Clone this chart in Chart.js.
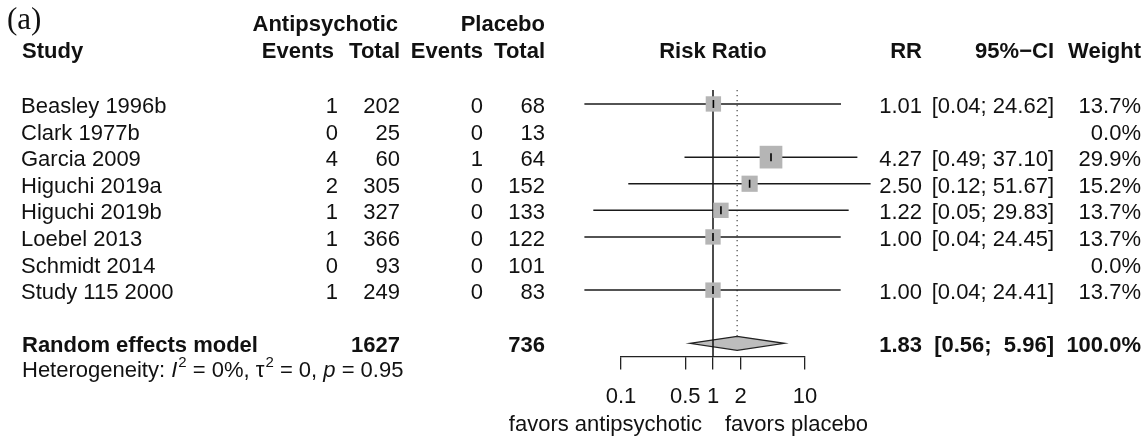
<!DOCTYPE html>
<html>
<head>
<meta charset="utf-8">
<script src="https://cdn.jsdelivr.net/npm/chart.js@4"></script>
<style>
  body { margin: 0; background: #fff; }
</style>
</head>
<body>
<canvas id="forestChart" width="1145" height="436"></canvas>
<script>
// study rows
const studies = ["Beasley 1996b", "Clark 1977b", "Garcia 2009", "Higuchi 2019a", "Higuchi 2019b", "Loebel 2013", "Schmidt 2014", "Study 115 2000"];
const apEvents = [1, 0, 4, 2, 1, 1, 0, 1];
const apTotal = [202, 25, 60, 305, 327, 366, 93, 249];
const plEvents = [0, 0, 1, 0, 0, 0, 0, 0];
const plTotal = [68, 13, 64, 152, 133, 122, 101, 83];
const rr = [1.01, null, 4.27, 2.50, 1.22, 1.00, null, 1.00];
const ciLower = [0.04, null, 0.49, 0.12, 0.05, 0.04, null, 0.04];
const ciUpper = [24.62, null, 37.10, 51.67, 29.83, 24.45, null, 24.41];
const weights = [13.7, 0.0, 29.9, 15.2, 13.7, 13.7, 0.0, 13.7];

// pooled result
const pooledLabel = "Random effects model";
const pooledApTotal = 1627;
const pooledPlTotal = 736;
const pooledRR = 1.83;
const pooledLower = 0.56;
const pooledUpper = 5.96;
const pooledWeight = 100.0;
const hetI2 = 0;
const hetTau2 = 0;
const hetP = 0.95;

const tickValues = [0.1, 0.5, 1, 2, 10];

const pooledRow = studies.length + 1;
const FONT = "'Liberation Sans', Arial, Helvetica, sans-serif";
const INK = "#111";

function txt(ctx, s, x, y, align, bold, size) {
    ctx.font = (bold ? "bold " : "") + (size || 22) + "px " + FONT;
    ctx.textAlign = align;
    ctx.fillText(s, x, y);
}

function fmtCI(lo, hi) {
    return "[" + lo.toFixed(2) + "; " + hi.toFixed(2).padStart(5, " ") + "]";
}

const forestPlugin = {
    id: "forestPlugin",

    beforeDatasetsDraw(chart) {
        const ctx = chart.ctx;
        const x = chart.scales.x;
        const y = chart.scales.y;
        const area = chart.chartArea;
        const yp = y.getPixelForValue(pooledRow);

        ctx.save();

        // pooled diamond
        ctx.beginPath();
        ctx.moveTo(x.getPixelForValue(pooledLower), yp);
        ctx.lineTo(x.getPixelForValue(pooledRR), yp - 7);
        ctx.lineTo(x.getPixelForValue(pooledUpper), yp);
        ctx.lineTo(x.getPixelForValue(pooledRR), yp + 7);
        ctx.closePath();
        ctx.fillStyle = "#bdbdbd";
        ctx.fill();
        ctx.strokeStyle = "#222";
        ctx.lineWidth = 1.3;
        ctx.stroke();

        // line of no effect
        const x1 = x.getPixelForValue(1);
        ctx.strokeStyle = INK;
        ctx.lineWidth = 1.5;
        ctx.beginPath();
        ctx.moveTo(x1, area.top + 2);
        ctx.lineTo(x1, area.bottom);
        ctx.stroke();

        // dotted line at pooled estimate
        const xp = x.getPixelForValue(pooledRR);
        ctx.setLineDash([1.3, 3.7]);
        ctx.strokeStyle = "#555";
        ctx.lineWidth = 1.3;
        ctx.beginPath();
        ctx.moveTo(xp, area.top + 2);
        ctx.lineTo(xp, yp - 7);
        ctx.stroke();

        ctx.restore();
    },

    afterDraw(chart) {
        const ctx = chart.ctx;
        const x = chart.scales.x;
        const y = chart.scales.y;
        const area = chart.chartArea;

        ctx.save();
        ctx.fillStyle = INK;
        ctx.textBaseline = "alphabetic";

        // panel label
        ctx.font = "31px 'Liberation Serif', 'Times New Roman', serif";
        ctx.textAlign = "left";
        ctx.fillText("(a)", 7, 29);

        // headers
        txt(ctx, "Antipsychotic", 398, 31, "right", true);
        txt(ctx, "Placebo", 545, 31, "right", true);
        txt(ctx, "Study", 22, 58, "left", true);
        txt(ctx, "Events", 334, 58, "right", true);
        txt(ctx, "Total", 400, 58, "right", true);
        txt(ctx, "Events", 483, 58, "right", true);
        txt(ctx, "Total", 545, 58, "right", true);
        txt(ctx, "Risk Ratio", (area.left + area.right) / 2, 58, "center", true);
        txt(ctx, "RR", 922, 58, "right", true);
        txt(ctx, "95%\u2212CI", 1054, 58, "right", true);
        txt(ctx, "Weight", 1141, 58, "right", true);

        // study rows
        studies.forEach((name, i) => {
            const by = y.getPixelForValue(i) + 9;
            txt(ctx, name, 21, by, "left", false);
            txt(ctx, String(apEvents[i]), 338, by, "right", false);
            txt(ctx, String(apTotal[i]), 400, by, "right", false);
            txt(ctx, String(plEvents[i]), 483, by, "right", false);
            txt(ctx, String(plTotal[i]), 545, by, "right", false);
            if (rr[i] !== null) {
                txt(ctx, rr[i].toFixed(2), 922, by, "right", false);
                txt(ctx, fmtCI(ciLower[i], ciUpper[i]), 1054, by, "right", false);
            }
            txt(ctx, weights[i].toFixed(1) + "%", 1141, by, "right", false);
        });

        // pooled row
        const py = y.getPixelForValue(pooledRow) + 9;
        txt(ctx, pooledLabel, 22, py, "left", true);
        txt(ctx, String(pooledApTotal), 400, py, "right", true);
        txt(ctx, String(pooledPlTotal), 545, py, "right", true);
        txt(ctx, pooledRR.toFixed(2), 922, py, "right", true);
        txt(ctx, fmtCI(pooledLower, pooledUpper), 1054, py, "right", true);
        txt(ctx, pooledWeight.toFixed(1) + "%", 1141, py, "right", true);

        // heterogeneity line
        const hy = py + 25;
        const parts = [
            ["Heterogeneity: ", ""],
            ["I", "italic "],
            ["2", "sup"],
            [" = " + hetI2 + "%, ", ""],
            ["\u03c4", ""],
            ["2", "sup"],
            [" = " + hetTau2 + ", ", ""],
            ["p", "italic "],
            [" = " + hetP.toFixed(2), ""]
        ];
        let hx = 22;
        ctx.textAlign = "left";
        parts.forEach(([s, st]) => {
            if (st === "sup") {
                ctx.font = "15px " + FONT;
                ctx.fillText(s, hx + 1, hy - 10);
                hx += ctx.measureText(s).width + 1;
            } else {
                ctx.font = st + "22px " + FONT;
                ctx.fillText(s, hx, hy);
                hx += ctx.measureText(s).width;
            }
        });

        // favours labels
        const x1 = x.getPixelForValue(1);
        txt(ctx, "favors antipsychotic", x1 - 11, 431, "right", false);
        txt(ctx, "favors placebo", x1 + 12, 431, "left", false);

        ctx.restore();
    }
};

const ciDatasets = [];
studies.forEach((name, i) => {
    if (rr[i] === null) return;
    ciDatasets.push({
        label: name,
        data: [{ x: ciLower[i], y: i }, { x: ciUpper[i], y: i }],
        showLine: true,
        borderColor: "#1a1a1a",
        borderWidth: 1.5,
        pointRadius: 0,
        clip: false,
        order: 3
    });
});

const squareData = studies.map((name, i) => ({ x: rr[i], y: i }));

const chart = new Chart(document.getElementById("forestChart"), {
    type: "scatter",
    data: {
        datasets: [
            {
                label: "estimate",
                data: squareData,
                pointStyle: "line",
                pointRotation: 90,
                pointRadius: 4,
                borderColor: "#000",
                borderWidth: 1.6,
                clip: false,
                order: 1
            },
            {
                label: "weight",
                data: squareData,
                pointStyle: "rect",
                pointRadius: c => 4.15 * Math.sqrt(weights[c.dataIndex]) / Math.SQRT2,
                backgroundColor: "#b5b5b5",
                borderWidth: 0,
                clip: false,
                order: 2
            },
            ...ciDatasets
        ]
    },
    options: {
        responsive: false,
        animation: false,
        events: [],
        layout: {
            padding: { left: 621, right: 340, top: 88, bottom: 12 }
        },
        plugins: {
            legend: { display: false },
            tooltip: { enabled: false }
        },
        scales: {
            x: {
                type: "logarithmic",
                min: 0.1,
                max: 10,
                afterBuildTicks: s => {
                    s.ticks = tickValues.map(v => ({ value: v }));
                },
                ticks: {
                    autoSkip: false,
                    maxRotation: 0,
                    padding: 14,
                    color: INK,
                    font: { family: FONT, size: 22 },
                    callback: v => String(v)
                },
                grid: {
                    drawOnChartArea: false,
                    drawTicks: true,
                    tickLength: 13,
                    color: "#222",
                    lineWidth: 1.3
                },
                border: { display: true, color: "#222", width: 1.3 }
            },
            y: {
                display: false,
                reverse: true,
                min: -0.6,
                max: 9.5
            }
        }
    },
    plugins: [forestPlugin]
});
</script>
</body>
</html>
